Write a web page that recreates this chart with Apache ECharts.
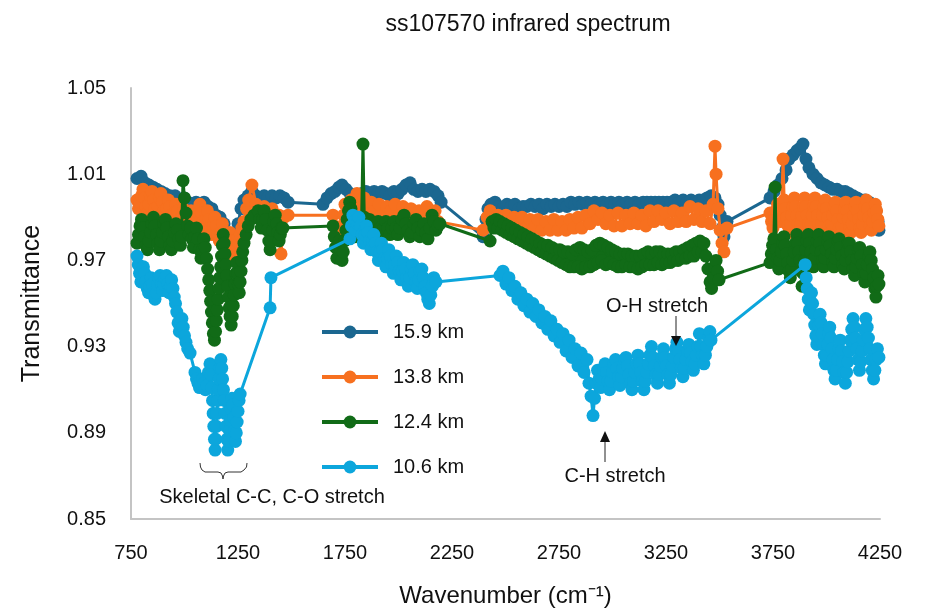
<!DOCTYPE html>
<html><head><meta charset="utf-8">
<script src="https://cdn.jsdelivr.net/npm/echarts@6/dist/echarts.min.js"></script>
<style>html,body{margin:0;padding:0;background:#fff}#c{width:926px;height:613px}</style>
</head><body><div id="c"></div>
<script>
// ---- data: [wavenumber (cm-1), transmittance] ----
const seriesNames = ['15.9 km', '13.8 km', '12.4 km', '10.6 km'];
const xTicks = [750, 1250, 1750, 2250, 2750, 3250, 3750, 4250];
const yTicks = [0.85, 0.89, 0.93, 0.97, 1.01, 1.05];

const s159 = [[778,1.008],[797,1.009],[815,1.006],[834,1.005],[853,1.004],[871,1.003],[890,1.002],[909,1.001],[932,1.000],[956,1.000],[979,0.998],[998,0.999],[1016,0.997],[1035,0.996],[1054,0.997],[1072,0.996],[1091,0.997],[1110,0.995],[1128,0.994],[1147,0.991],[1166,0.990],[1185,0.987],[1199,0.983],[1213,0.980],[1227,0.978],[1241,0.981],[1250,0.987],[1264,0.994],[1278,0.998],[1297,1.000],[1315,1.002],[1334,1.000],[1353,0.999],[1372,1.000],[1390,0.999],[1409,1.000],[1428,0.999],[1446,1.000],[1465,0.999],[1484,0.997],
[1647,0.996],[1666,0.999],[1685,1.001],[1703,1.002],[1722,1.004],[1736,1.005],[1755,1.003],[1774,1.001],[1792,0.998],[1811,1.000],[1830,1.001],[1848,1.002],[1867,1.001],[1886,1.002],[1904,1.001],[1923,1.002],[1942,1.001],[1960,1.000],[1979,1.002],[1998,1.001],[2016,1.003],[2035,1.005],[2054,1.006],[2072,1.003],[2091,1.002],[2110,1.003],[2128,1.002],[2147,1.003],[2166,1.002],[2185,1.000],[2199,0.997],
[2395,0.981],[2409,0.989],[2418,0.994],[2432,0.996],[2451,0.997],
[2470,0.995],[2488,0.994],[2507,0.996],[2526,0.995],[2544,0.996],[2563,0.994],[2582,0.995],[2600,0.995],[2619,0.996],[2638,0.995],[2657,0.996],[2675,0.994],[2694,0.996],[2713,0.995],[2731,0.996],[2750,0.995],[2769,0.996],[2787,0.995],[2806,0.997],[2825,0.996],[2844,0.997],[2862,0.996],[2881,0.997],[2900,0.996],[2918,0.997],[2937,0.996],[2956,0.997],[2974,0.996],[2993,0.997],[3012,0.996],[3030,0.997],[3049,0.996],[3068,0.997],[3086,0.996],[3105,0.997],[3124,0.996],[3143,0.997],[3161,0.997],[3180,0.997],[3199,0.997],[3217,0.997],[3236,0.997],[3255,0.997],[3273,0.997],[3292,0.998],[3311,0.997],[3330,0.998],[3348,0.997],[3367,0.998],[3386,0.997],[3405,0.998],[3423,0.998],[3442,0.999],[3461,1.000],[3479,0.999],[3493,0.996],[3503,0.991],[3512,0.985],[3521,0.981],[3535,0.988],
[3736,0.999],[3755,1.002],[3773,1.005],[3792,1.008],[3811,1.012],[3825,1.017],[3844,1.019],[3862,1.021],[3876,1.022],[3890,1.024],[3904,1.017],[3918,1.013],[3937,1.010],[3956,1.008],[3974,1.006],[3993,1.005],[4012,1.004],[4030,1.003],[4049,1.003],[4068,1.002],[4087,1.002],[4105,1.001],[4124,1.000],[4143,0.999],[4162,0.998],[4180,0.998],[4199,0.997],[4218,0.996],[4232,0.993],[4241,0.988],[4245,0.984]];

const s138 = [[778,0.998],[785,0.994],[792,0.997],[799,1.000],[806,1.003],[813,0.999],[820,0.995],[827,0.992],[834,0.996],[841,1.000],[848,1.002],[855,0.998],[862,0.994],[869,0.991],[876,0.995],[883,0.999],[890,1.001],[897,0.997],[904,0.993],[911,0.990],[918,0.994],[925,0.998],[932,0.995],[939,0.991],[946,0.988],[953,0.992],[960,0.996],[967,0.993],[974,0.989],[981,0.986],[988,0.990],[995,0.994],[1002,0.990],[1009,0.987],[1016,0.985],[1023,0.989],[1030,0.993],[1037,0.990],[1044,0.986],[1051,0.984],[1058,0.988],[1065,0.992],[1072,0.996],[1079,0.992],[1086,0.988],[1093,0.985],[1100,0.989],[1107,0.993],[1114,0.989],[1121,0.985],[1128,0.982],[1135,0.986],[1142,0.990],[1149,0.986],[1156,0.982],[1163,0.979],[1170,0.983],[1177,0.987],[1184,0.983],[1191,0.979],[1198,0.976],[1205,0.980],[1212,0.983],[1219,0.979],[1226,0.975],[1233,0.972],[1240,0.976],[1247,0.980],[1254,0.978],[1261,0.982],[1268,0.985],[1278,0.988],[1290,0.994],[1300,0.998],[1315,1.005],[1334,0.996],[1353,0.993],[1372,0.995],[1390,0.991],[1409,0.994],[1428,0.988],[1442,0.991],[1451,0.973],[1465,0.990],[1484,0.991],
[1694,0.991],[1701,0.986],[1708,0.981],[1715,0.977],[1722,0.974],[1729,0.980],[1736,0.986],[1743,0.991],[1750,0.996],[1764,0.991],[1778,0.998],[1792,0.994],[1806,1.001],[1820,0.996],[1839,0.999],[1853,0.994],[1872,0.997],[1890,0.993],[1909,0.996],[1928,0.991],[1946,0.995],[1965,0.993],[1984,0.996],[2002,0.991],[2021,0.995],[2040,0.990],[2058,0.994],[2077,0.989],[2096,0.993],[2114,0.990],[2133,0.995],[2152,0.989],[2171,0.993],[2185,0.988],
[2395,0.984],[2414,0.990],[2428,0.993],
[2446,0.987],[2465,0.991],[2484,0.987],[2502,0.991],[2521,0.986],[2540,0.990],[2558,0.985],[2577,0.990],[2596,0.985],[2614,0.989],[2633,0.985],[2652,0.989],[2670,0.984],[2689,0.988],[2708,0.984],[2726,0.989],[2745,0.984],[2764,0.988],[2783,0.984],[2801,0.989],[2820,0.985],[2839,0.990],[2857,0.985],[2876,0.991],[2895,0.987],[2913,0.993],[2932,0.989],[2951,0.992],[2969,0.987],[2988,0.991],[3007,0.986],[3026,0.992],[3044,0.986],[3063,0.991],[3082,0.987],[3100,0.992],[3119,0.987],[3138,0.991],[3156,0.986],[3175,0.993],[3194,0.988],[3213,0.993],[3231,0.989],[3250,0.992],[3269,0.987],[3287,0.993],[3306,0.988],[3325,0.992],[3344,0.988],[3362,0.995],[3381,0.989],[3400,0.994],[3418,0.988],[3437,0.993],[3456,0.987],[3470,0.996],[3479,1.023],[3484,1.010],[3493,0.994],[3503,0.984],[3512,0.978],[3521,0.974],[3535,0.985],
[3736,0.992],[3743,0.988],[3750,0.985],[3757,0.989],[3764,0.993],[3771,0.996],[3778,0.992],[3785,0.988],[3790,0.994],[3797,1.017],[3802,0.998],[3808,0.994],[3814,0.990],[3820,0.986],[3826,0.983],[3832,0.987],[3838,0.991],[3844,0.995],[3850,0.999],[3856,0.995],[3862,0.991],[3868,0.987],[3874,0.983],[3880,0.987],[3886,0.991],[3892,0.995],[3898,0.999],[3904,0.995],[3910,0.991],[3916,0.987],[3922,0.983],[3928,0.987],[3934,0.991],[3940,0.995],[3946,0.999],[3952,0.995],[3958,0.991],[3964,0.987],[3970,0.983],[3976,0.987],[3982,0.991],[3988,0.995],[3994,0.998],[4000,0.994],[4006,0.990],[4012,0.986],[4018,0.983],[4024,0.987],[4030,0.991],[4036,0.995],[4042,0.997],[4048,0.993],[4054,0.989],[4060,0.985],[4066,0.982],[4072,0.986],[4078,0.990],[4084,0.994],[4090,0.997],[4096,0.993],[4102,0.989],[4108,0.985],[4114,0.983],[4120,0.987],[4126,0.991],[4132,0.995],[4138,0.997],[4144,0.993],[4150,0.989],[4156,0.985],[4162,0.983],[4168,0.987],[4174,0.991],[4180,0.995],[4186,0.998],[4192,0.994],[4198,0.990],[4204,0.986],[4210,0.984],[4216,0.988],[4222,0.992],[4228,0.996],[4234,0.993],[4240,0.989],[4245,0.986]];

const s124 = [[778,0.978],[785,0.982],[792,0.986],[799,0.989],[806,0.985],[813,0.981],[820,0.977],[827,0.975],[834,0.979],[841,0.983],[848,0.987],[855,0.990],[862,0.986],[869,0.982],[876,0.978],[883,0.975],[890,0.979],[897,0.983],[904,0.987],[911,0.989],[918,0.985],[925,0.981],[932,0.977],[939,0.975],[946,0.979],[953,0.983],[960,0.987],[967,0.984],[974,0.980],[981,0.977],[986,0.981],[993,1.007],[1000,0.999],[1007,0.992],[1014,0.986],[1021,0.982],[1028,0.985],[1035,0.980],[1042,0.976],[1049,0.981],[1056,0.985],[1063,0.980],[1070,0.975],[1077,0.971],[1084,0.975],[1091,0.980],[1097,0.976],[1103,0.971],[1108,0.966],[1113,0.961],[1118,0.956],[1122,0.951],[1126,0.946],[1130,0.941],[1135,0.936],[1140,0.933],[1145,0.937],[1149,0.942],[1153,0.947],[1157,0.952],[1161,0.957],[1165,0.962],[1169,0.967],[1173,0.972],[1177,0.977],[1181,0.982],[1185,0.978],[1189,0.973],[1193,0.968],[1197,0.963],[1201,0.958],[1205,0.953],[1209,0.948],[1213,0.944],[1218,0.940],[1223,0.944],[1228,0.949],[1232,0.954],[1236,0.959],[1240,0.964],[1244,0.969],[1248,0.964],[1252,0.959],[1256,0.955],[1260,0.960],[1264,0.965],[1268,0.970],[1272,0.974],[1278,0.978],[1288,0.982],[1298,0.986],[1310,0.989],[1325,0.991],[1344,0.993],[1352,0.989],[1359,0.985],[1366,0.989],[1373,0.993],[1380,0.989],[1387,0.984],[1394,0.979],[1400,0.975],[1406,0.979],[1412,0.984],[1418,0.988],[1424,0.991],[1430,0.987],[1436,0.983],[1442,0.979],[1448,0.982],[1454,0.985],[1460,0.985],
[1694,0.986],[1700,0.981],[1706,0.976],[1712,0.971],[1718,0.975],[1724,0.979],[1730,0.975],[1736,0.970],[1742,0.974],[1748,0.979],[1754,0.984],[1760,0.989],[1766,0.993],[1772,0.997],[1778,0.994],[1784,0.989],[1790,0.985],[1796,0.981],[1802,0.985],[1808,0.989],[1814,0.986],[1820,0.982],[1827,0.985],[1834,1.024],[1840,0.990],[1846,0.986],[1852,0.983],[1858,0.986],[1864,0.989],[1870,0.986],[1876,0.983],[1886,0.987],[1895,0.984],[1905,0.988],[1914,0.985],[1923,0.982],[1932,0.985],[1941,0.988],[1951,0.985],[1960,0.982],[1970,0.985],[1979,0.988],[1988,0.985],[1997,0.982],[2007,0.985],[2016,0.989],[2026,0.991],[2035,0.987],[2044,0.984],[2053,0.981],[2063,0.983],[2072,0.987],[2082,0.989],[2091,0.985],[2100,0.981],[2110,0.984],[2119,0.987],[2128,0.983],[2138,0.980],[2147,0.985],[2157,0.991],[2166,0.988],[2175,0.984],[2185,0.986],[2194,0.987],
[2428,0.979],[2437,0.988],[2446,0.985],[2456,0.989],[2465,0.985],[2474,0.988],[2484,0.984],[2493,0.987],[2502,0.983],[2512,0.986],[2521,0.982],[2530,0.985],[2540,0.981],[2549,0.984],[2558,0.980],[2568,0.983],[2577,0.979],[2586,0.982],[2596,0.978],[2605,0.981],[2614,0.977],[2624,0.980],[2633,0.976],[2642,0.979],[2652,0.975],[2661,0.978],[2670,0.974],[2680,0.977],[2689,0.973],[2698,0.977],[2708,0.972],[2717,0.976],[2726,0.971],[2736,0.975],[2745,0.970],[2754,0.975],[2764,0.969],[2773,0.974],[2783,0.968],[2792,0.974],[2801,0.967],[2811,0.973],[2820,0.967],[2829,0.975],[2839,0.967],[2848,0.976],[2857,0.966],[2867,0.975],[2876,0.967],[2885,0.974],[2895,0.967],[2904,0.975],[2913,0.968],[2923,0.977],[2932,0.969],[2941,0.978],[2951,0.970],[2960,0.977],[2969,0.968],[2979,0.976],[2988,0.969],[2997,0.975],[3007,0.968],[3016,0.974],[3026,0.967],[3035,0.973],[3044,0.967],[3054,0.973],[3063,0.968],[3072,0.973],[3082,0.967],[3091,0.972],[3100,0.967],[3110,0.972],[3119,0.966],[3128,0.972],[3138,0.967],[3147,0.973],[3156,0.968],[3166,0.974],[3175,0.968],[3184,0.973],[3194,0.968],[3203,0.974],[3213,0.969],[3222,0.974],[3231,0.968],[3241,0.973],[3250,0.969],[3259,0.973],[3269,0.969],[3278,0.973],[3287,0.970],[3297,0.974],[3306,0.970],[3315,0.974],[3325,0.971],[3334,0.975],[3344,0.971],[3353,0.976],[3362,0.972],[3372,0.977],[3381,0.972],[3390,0.978],[3400,0.974],[3409,0.979],[3418,0.974],[3427,0.978],[3436,0.972],[3446,0.966],[3456,0.960],[3463,0.957],[3470,0.962],[3477,0.967],[3484,0.970],[3491,0.965],[3498,0.961],
[3736,0.969],[3742,0.973],[3748,0.977],[3754,0.980],[3760,1.004],[3765,0.975],[3771,0.971],[3777,0.966],[3783,0.970],[3789,0.974],[3795,0.978],[3801,0.981],[3807,0.977],[3813,0.973],[3819,0.969],[3825,0.965],[3831,0.962],[3837,0.966],[3843,0.970],[3849,0.974],[3855,0.978],[3861,0.982],[3866,0.978],[3871,0.974],[3876,0.970],[3881,0.965],[3886,0.958],[3891,0.964],[3897,0.970],[3903,0.975],[3909,0.979],[3915,0.982],[3921,0.978],[3927,0.974],[3933,0.970],[3939,0.967],[3945,0.971],[3951,0.975],[3957,0.979],[3963,0.982],[3969,0.978],[3975,0.974],[3981,0.970],[3987,0.967],[3993,0.971],[3999,0.975],[4005,0.979],[4011,0.981],[4017,0.977],[4023,0.973],[4029,0.969],[4035,0.967],[4041,0.971],[4047,0.975],[4053,0.979],[4059,0.980],[4065,0.976],[4071,0.972],[4077,0.968],[4083,0.966],[4089,0.970],[4095,0.974],[4101,0.978],[4107,0.978],[4113,0.974],[4119,0.970],[4125,0.966],[4131,0.963],[4137,0.967],[4143,0.971],[4149,0.975],[4155,0.976],[4161,0.972],[4167,0.968],[4173,0.964],[4179,0.960],[4185,0.964],[4191,0.968],[4197,0.972],[4203,0.974],[4209,0.970],[4215,0.966],[4221,0.962],[4226,0.957],[4231,0.953],[4236,0.958],[4241,0.963],[4245,0.959]];

const s106 = [[778,0.972],[784,0.968],[790,0.964],[796,0.960],[802,0.963],[808,0.967],[814,0.964],[820,0.960],[826,0.957],[832,0.955],[838,0.958],[844,0.962],[850,0.959],[856,0.955],[862,0.952],[868,0.955],[874,0.959],[880,0.962],[886,0.963],[892,0.959],[898,0.956],[904,0.959],[910,0.962],[916,0.963],[922,0.959],[928,0.955],[934,0.958],[940,0.961],[946,0.957],[952,0.953],[958,0.950],[964,0.946],[970,0.941],[976,0.937],[982,0.940],[988,0.943],[994,0.939],[1000,0.935],[1007,0.932],[1015,0.929],[1026,0.927],[1049,0.918],[1056,0.915],[1063,0.913],[1070,0.911],[1077,0.913],[1084,0.915],[1091,0.913],[1098,0.910],[1105,0.912],[1112,0.918],[1119,0.922],[1124,0.917],[1128,0.911],[1131,0.905],[1134,0.899],[1137,0.893],[1140,0.887],[1143,0.882],[1146,0.887],[1149,0.893],[1152,0.899],[1155,0.905],[1158,0.910],[1162,0.915],[1166,0.920],[1170,0.924],[1174,0.920],[1178,0.915],[1182,0.910],[1186,0.905],[1190,0.899],[1194,0.893],[1198,0.887],[1202,0.882],[1206,0.886],[1210,0.891],[1214,0.896],[1218,0.901],[1222,0.906],[1226,0.903],[1230,0.897],[1234,0.891],[1238,0.886],[1242,0.890],[1246,0.895],[1250,0.900],[1255,0.905],[1260,0.908],[1400,0.948],[1404,0.962],
[1773,0.980],[1780,0.986],[1787,0.991],[1794,0.988],[1801,0.984],[1808,0.987],[1815,0.990],[1822,0.986],[1829,0.982],[1836,0.978],[1843,0.982],[1850,0.986],[1857,0.983],[1864,0.979],[1871,0.975],[1878,0.979],[1885,0.982],[1892,0.978],[1899,0.974],[1906,0.970],[1913,0.974],[1920,0.978],[1927,0.975],[1934,0.971],[1941,0.967],[1948,0.971],[1955,0.975],[1962,0.972],[1969,0.968],[1976,0.964],[1983,0.968],[1990,0.972],[1997,0.969],[2004,0.965],[2011,0.961],[2018,0.965],[2025,0.969],[2032,0.966],[2039,0.962],[2046,0.958],[2053,0.962],[2060,0.966],[2067,0.968],[2074,0.964],[2081,0.960],[2088,0.957],[2095,0.961],[2102,0.965],[2109,0.966],[2116,0.962],[2123,0.958],[2130,0.955],[2137,0.952],[2144,0.950],[2151,0.954],[2158,0.958],[2165,0.962],[2175,0.960],
[2474,0.963],[2488,0.965],[2502,0.959],[2516,0.962],[2530,0.956],[2544,0.958],[2558,0.952],[2572,0.955],[2586,0.949],[2600,0.952],[2614,0.946],[2628,0.950],[2642,0.944],[2656,0.947],[2670,0.941],[2684,0.944],[2698,0.938],[2712,0.942],[2727,0.935],[2741,0.938],[2755,0.932],[2769,0.936],[2783,0.928],[2797,0.933],[2811,0.925],[2825,0.929],[2839,0.921],[2853,0.927],[2867,0.918],[2881,0.924],[2890,0.913],[2900,0.907],[2909,0.898],[2916,0.906],[2923,0.913],[2930,0.919],[2937,0.915],[2944,0.911],[2951,0.915],[2958,0.919],[2965,0.922],[2972,0.918],[2979,0.914],[2986,0.910],[2993,0.914],[3000,0.918],[3007,0.922],[3014,0.924],[3021,0.920],[3028,0.916],[3035,0.912],[3042,0.916],[3049,0.920],[3056,0.924],[3063,0.925],[3070,0.921],[3077,0.917],[3084,0.913],[3091,0.910],[3098,0.914],[3105,0.918],[3112,0.922],[3119,0.926],[3126,0.922],[3133,0.918],[3140,0.914],[3147,0.910],[3154,0.914],[3161,0.918],[3168,0.922],[3175,0.926],[3182,0.930],[3189,0.925],[3196,0.921],[3203,0.917],[3210,0.913],[3217,0.917],[3224,0.921],[3231,0.925],[3238,0.929],[3245,0.925],[3252,0.921],[3259,0.917],[3266,0.913],[3273,0.917],[3280,0.921],[3287,0.925],[3294,0.929],[3301,0.932],[3308,0.928],[3315,0.924],[3322,0.920],[3329,0.916],[3336,0.920],[3343,0.924],[3350,0.928],[3357,0.931],[3364,0.927],[3371,0.923],[3378,0.919],[3385,0.922],[3392,0.926],[3399,0.930],[3406,0.936],[3413,0.930],[3420,0.926],[3427,0.922],[3434,0.926],[3441,0.930],[3448,0.934],[3455,0.937],[3460,0.933],
[3900,0.968],[3905,0.962],[3910,0.957],[3915,0.952],[3920,0.947],[3925,0.951],[3930,0.955],[3935,0.950],[3940,0.945],[3945,0.940],[3950,0.935],[3955,0.931],[3960,0.935],[3965,0.940],[3970,0.945],[3975,0.941],[3980,0.936],[3985,0.931],[3990,0.926],[3995,0.922],[4000,0.926],[4005,0.931],[4010,0.936],[4015,0.939],[4020,0.934],[4025,0.929],[4030,0.924],[4035,0.919],[4040,0.915],[4046,0.919],[4052,0.924],[4058,0.929],[4064,0.933],[4070,0.928],[4076,0.923],[4082,0.918],[4088,0.913],[4094,0.918],[4100,0.923],[4106,0.928],[4112,0.933],[4118,0.938],[4124,0.943],[4130,0.939],[4136,0.934],[4142,0.929],[4148,0.924],[4154,0.919],[4160,0.923],[4166,0.928],[4172,0.933],[4178,0.938],[4184,0.943],[4190,0.939],[4196,0.934],[4202,0.929],[4208,0.924],[4214,0.919],[4220,0.915],[4226,0.919],[4232,0.924],[4238,0.929],[4245,0.925]];

const seriesData = [s159, s138, s124, s106];
const colors = ['#1b6790', '#f7701f', '#116b17', '#0ca6dc'];

const FONT = '"Liberation Sans", Arial, Helvetica, sans-serif';
const chart = echarts.init(document.getElementById('c'), null, {renderer: 'canvas'});

const option = {
  animation: false,
  backgroundColor: '#fff',
  title: {
    text: 'ss107570 infrared spectrum',
    left: 523, top: 8, textAlign: 'center',
    textStyle: {fontFamily: FONT, fontSize: 23, fontWeight: 'normal', color: '#111'}
  },
  legend: {
    orient: 'vertical', left: 320, top: 322, padding: 0,
    itemWidth: 56, itemHeight: 16, itemGap: 25,
    data: seriesNames,
    lineStyle: {width: 4},
    itemStyle: {borderWidth: 0},
    textStyle: {fontFamily: FONT, fontSize: 20, color: '#111', padding: [0, 0, 0, 10]}
  },
  grid: {left: 131, right: 46, top: 88, bottom: 91, containLabel: false},
  xAxis: {
    type: 'value', min: 750, max: 4250, interval: 250,
    name: 'Wavenumber (cm\u207B\u00B9)', nameLocation: 'middle', nameGap: 65,
    nameTextStyle: {fontFamily: FONT, fontSize: 24, color: '#111'},
    axisLine: {show: true, lineStyle: {color: '#c4c4c4', width: 2}},
    axisTick: {show: false}, splitLine: {show: false},
    axisLabel: {
      margin: 24, fontFamily: FONT, fontSize: 20, color: '#111',
      formatter: v => xTicks.indexOf(Math.round(v)) >= 0 ? String(Math.round(v)) : ''
    }
  },
  yAxis: {
    type: 'value', min: 0.85, max: 1.05, interval: 0.01,
    name: 'Transmittance', nameLocation: 'middle', nameGap: 86, nameRotate: 90,
    nameTextStyle: {fontFamily: FONT, fontSize: 25, color: '#111'},
    axisLine: {show: true, lineStyle: {color: '#c4c4c4', width: 2}},
    axisTick: {show: false}, splitLine: {show: false},
    axisLabel: {
      margin: 25, fontFamily: FONT, fontSize: 20, color: '#111',
      formatter: v => {
        const r = Math.round(v * 100) / 100;
        return yTicks.some(t => Math.abs(t - r) < 1e-6) ? r.toFixed(2) : '';
      }
    }
  },
  series: seriesNames.map((n, i) => ({
    name: n, type: 'line', data: seriesData[i],
    symbol: 'circle', symbolSize: 13, showSymbol: true, showAllSymbol: true,
    lineStyle: {color: colors[i], width: 3},
    itemStyle: {color: colors[i], borderWidth: 0},
    emphasis: {disabled: true},
    z: 2 + i
  })),
  graphic: [
    {type: 'text', x: 657, y: 306, z: 100,
     style: {text: 'O-H stretch', font: '20px ' + FONT, fill: '#111', align: 'center', verticalAlign: 'middle'}},
    {type: 'line', z: 100, shape: {x1: 676, y1: 316, x2: 676, y2: 338}, style: {stroke: '#222', lineWidth: 1}},
    {type: 'polygon', z: 100, shape: {points: [[671, 336], [681, 336], [676, 346]]}, style: {fill: '#111'}},
    {type: 'text', x: 615, y: 476, z: 100,
     style: {text: 'C-H stretch', font: '20px ' + FONT, fill: '#111', align: 'center', verticalAlign: 'middle'}},
    {type: 'line', z: 100, shape: {x1: 605, y1: 440, x2: 605, y2: 462}, style: {stroke: '#222', lineWidth: 1}},
    {type: 'polygon', z: 100, shape: {points: [[600, 442], [610, 442], [605, 431]]}, style: {fill: '#111'}},
    {type: 'text', x: 272, y: 497, z: 100,
     style: {text: 'Skeletal C-C, C-O stretch', font: '20px ' + FONT, fill: '#111', align: 'center', verticalAlign: 'middle'}},
    {type: 'polyline', z: 100,
     shape: {points: [[200,463],[200.5,467],[202,470],[205,472],[218,472],[221,473],[222.5,476],[223,479],[223.5,476],[225,473],[228,472],[241,472],[244,470],[246.5,467],[247,463]]},
     style: {stroke: '#333', lineWidth: 1, fill: null}}
  ]
};
chart.setOption(option);
</script>
</body></html>
